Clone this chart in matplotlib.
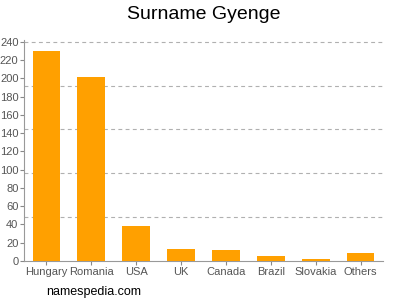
import matplotlib
matplotlib.use("Agg")
import matplotlib.pyplot as plt
import numpy as np

plt.rcParams["font.family"] = ["Liberation Sans", "DejaVu Sans"]

categories = ["Hungary", "Romania", "USA", "UK", "Canada", "Brazil", "Slovakia", "Others"]
values = [230, 201, 38, 13, 12, 5, 2, 9]
yticks = list(range(0, 241, 20))
grid_levels = [48, 96, 144, 192, 240]

fig = plt.figure(figsize=(4, 3), dpi=100)
ax = fig.add_axes([0.06, 0.13, 0.8975, 0.737])
x = np.arange(len(categories))
ax.bar(x, values, width=0.62, color="#FFA000", zorder=3)
ax.set_xlim(-0.5, len(categories) - 0.5)
ax.set_ylim(0, 242)
for g in grid_levels:
    ax.axhline(g, color="#b0b0b0", linestyle=(0, (3.5, 3)), linewidth=0.8, zorder=1)
ax.set_yticks(yticks)
ax.set_xticks(x)
ax.set_xticklabels(categories)
ax.tick_params(axis="both", colors="#888888", labelcolor="#555555", labelsize=8, length=3, width=0.8, pad=1)
for s in ["top", "right"]:
    ax.spines[s].set_visible(False)
for s in ["left", "bottom"]:
    ax.spines[s].set_color("#999999")
    ax.spines[s].set_linewidth(0.8)
fig.text(0.51, 0.952, "Surname Gyenge", ha="center", va="center", fontsize=14, color="#000000")
fig.text(0.115, 0.027, "namespedia.com", ha="left", va="center", fontsize=9, color="#000000")
fig.savefig("out.png", dpi=100)
